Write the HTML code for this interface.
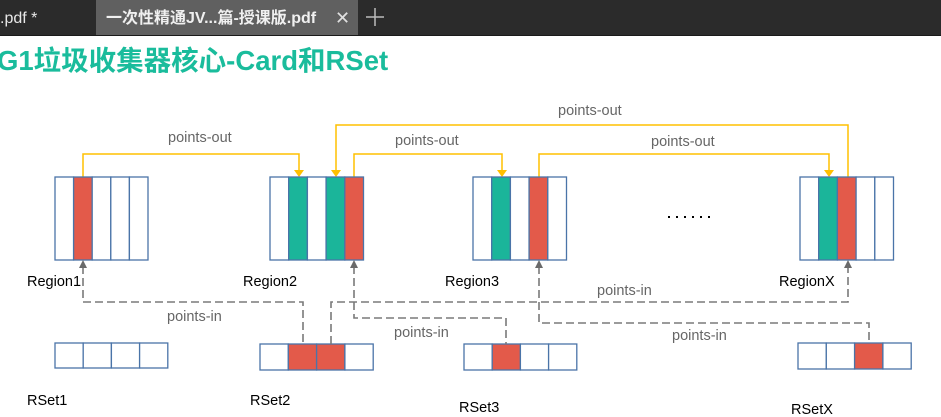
<!DOCTYPE html>
<html><head><meta charset="utf-8"><style>
html,body{margin:0;padding:0;background:#fff;width:941px;height:417px;overflow:hidden}
</style></head><body>
<svg width="941" height="417" viewBox="0 0 941 417" xmlns="http://www.w3.org/2000/svg" style="display:block;font-family:'Liberation Sans','Noto Sans CJK SC',sans-serif">
<rect x="0" y="0" width="941" height="36" fill="#2b2b2b"/>
<rect x="96" y="0" width="262" height="36" fill="#606060"/>
<rect x="0" y="35" width="941" height="1" fill="#1a1a1a"/>
<text x="0" y="23" font-size="16" fill="#e8e8e8">.pdf *</text>
<text x="106" y="23" font-size="16" fill="#f0f0f0" font-weight="bold">一次性精通JV...篇-授课版.pdf</text>
<text x="335" y="24" font-size="18" fill="#e0e0e0">✕</text>
<path d="M366 17h18M375 8v18" stroke="#bbb" stroke-width="1.5"/>
<text x="-3" y="70" font-size="27.5" font-weight="bold" fill="#1abc9c">G1垃圾收集器核心-Card和RSet</text>

<g stroke="#ffc000" stroke-width="1.5" fill="none">
<path d="M83 177V154H299V172"/>
<path d="M354 177V154H502V172"/>
<path d="M848 177V125H336V172"/>
<path d="M539 177V154H829V172"/>
</g>
<g fill="#ffc000">
<path d="M294 170h10l-5 7z"/><path d="M497 170h10l-5 7z"/><path d="M331 170h10l-5 7z"/><path d="M824 170h10l-5 7z"/>
</g>

<g stroke="#4a74a8" stroke-width="1.3">
<rect x="55" y="177" width="18.6" height="83" fill="#fff"/><rect x="73.6" y="177" width="18.6" height="83" fill="#e35a4a"/><rect x="92.2" y="177" width="18.6" height="83" fill="#fff"/><rect x="110.8" y="177" width="18.6" height="83" fill="#fff"/><rect x="129.4" y="177" width="18.6" height="83" fill="#fff"/>
<rect x="270" y="177" width="18.7" height="83" fill="#fff"/><rect x="288.7" y="177" width="18.7" height="83" fill="#1bb59a"/><rect x="307.4" y="177" width="18.7" height="83" fill="#fff"/><rect x="326.1" y="177" width="18.7" height="83" fill="#1bb59a"/><rect x="344.8" y="177" width="18.7" height="83" fill="#e35a4a"/>
<rect x="473" y="177" width="18.7" height="83" fill="#fff"/><rect x="491.7" y="177" width="18.7" height="83" fill="#1bb59a"/><rect x="510.4" y="177" width="18.7" height="83" fill="#fff"/><rect x="529.1" y="177" width="18.7" height="83" fill="#e35a4a"/><rect x="547.8" y="177" width="18.7" height="83" fill="#fff"/>
<rect x="800" y="177" width="18.7" height="83" fill="#fff"/><rect x="818.7" y="177" width="18.7" height="83" fill="#1bb59a"/><rect x="837.4" y="177" width="18.7" height="83" fill="#e35a4a"/><rect x="856.1" y="177" width="18.7" height="83" fill="#fff"/><rect x="874.8" y="177" width="18.7" height="83" fill="#fff"/>

<rect x="55" y="343" width="28.2" height="25" fill="#fff"/><rect x="83.2" y="343" width="28.2" height="25" fill="#fff"/><rect x="111.4" y="343" width="28.2" height="25" fill="#fff"/><rect x="139.6" y="343" width="28.2" height="25" fill="#fff"/>
<rect x="260" y="344" width="28.3" height="26" fill="#fff"/><rect x="288.3" y="344" width="28.3" height="26" fill="#e35a4a"/><rect x="316.6" y="344" width="28.3" height="26" fill="#e35a4a"/><rect x="344.9" y="344" width="28.3" height="26" fill="#fff"/>
<rect x="464" y="344" width="28.2" height="26" fill="#fff"/><rect x="492.2" y="344" width="28.2" height="26" fill="#e35a4a"/><rect x="520.4" y="344" width="28.2" height="26" fill="#fff"/><rect x="548.6" y="344" width="28.2" height="26" fill="#fff"/>
<rect x="798" y="343" width="28.3" height="26" fill="#fff"/><rect x="826.3" y="343" width="28.3" height="26" fill="#fff"/><rect x="854.6" y="343" width="28.3" height="26" fill="#e35a4a"/><rect x="882.9" y="343" width="28.3" height="26" fill="#fff"/>
</g>

<g stroke="#7a7a7a" stroke-width="1.6" fill="none" stroke-dasharray="8 4">
<path d="M83 266V302H303V344"/>
<path d="M331 344V302H848V266"/>
<path d="M354 266V318H506V344"/>
<path d="M539 266V323H869V343"/>
</g>
<g fill="#6a6a6a">
<path d="M79 268h8l-4-8z"/><path d="M350 268h8l-4-8z"/><path d="M535 268h8l-4-8z"/><path d="M844 268h8l-4-8z"/>
</g>

<g font-size="14.5" fill="#666">
<text x="168" y="142">points-out</text>
<text x="395" y="145">points-out</text>
<text x="558" y="115">points-out</text>
<text x="651" y="146">points-out</text>
<text x="167" y="321">points-in</text>
<text x="394" y="337">points-in</text>
<text x="597" y="295">points-in</text>
<text x="672" y="340">points-in</text>
</g>
<g font-size="14.5" fill="#000">
<text x="27" y="286">Region1</text>
<text x="243" y="286">Region2</text>
<text x="445" y="286">Region3</text>
<text x="779" y="286">RegionX</text>
<text x="27" y="405">RSet1</text>
<text x="250" y="405">RSet2</text>
<text x="459" y="412">RSet3</text>
<text x="791" y="414">RSetX</text>
</g>
<g fill="#000">
<rect x="668" y="216" width="2" height="2"/><rect x="676" y="216" width="2" height="2"/><rect x="684" y="216" width="2" height="2"/><rect x="692" y="216" width="2" height="2"/><rect x="700" y="216" width="2" height="2"/><rect x="708" y="216" width="2" height="2"/>
</g>
</svg>
</body></html>
